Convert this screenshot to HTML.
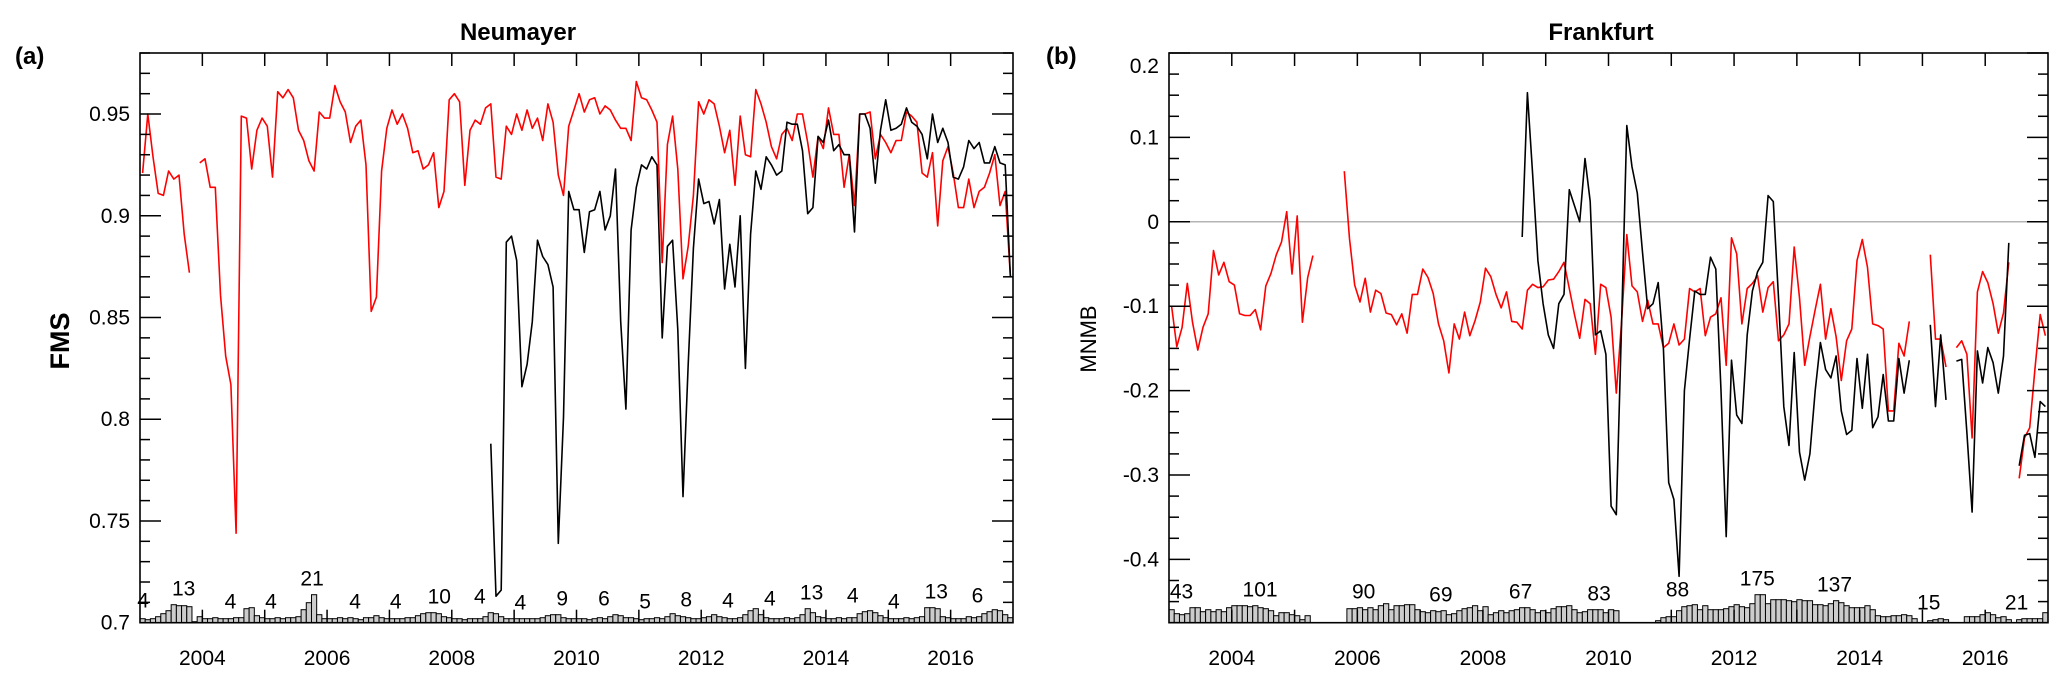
<!DOCTYPE html>
<html><head><meta charset="utf-8"><style>
html,body{margin:0;padding:0;background:#fff;}
svg{display:block;font-family:"Liberation Sans",Arial,sans-serif;}
</style></head><body>
<svg id="chart" width="2067" height="682" viewBox="0 0 2067 682" xmlns="http://www.w3.org/2000/svg"></svg>
<script>
const N = 168;
const leftRed = [0.921,0.950,0.929,0.911,0.910,0.922,0.918,0.920,0.891,0.872,null,
0.926,0.928,0.914,0.914,0.861,0.831,0.817,0.744,
0.949,0.948,0.923,0.942,0.948,0.944,0.919,0.961,0.958,0.962,0.958,
0.942,0.937,0.927,0.922,0.951,0.948,0.948,0.964,0.956,0.951,
0.936,0.944,0.947,0.925,0.853,0.860,0.922,0.943,0.952,0.945,
0.950,0.943,0.931,0.932,0.923,0.925,0.931,0.904,0.912,0.957,
0.960,0.956,0.915,0.942,0.947,0.945,0.953,0.955,0.919,0.918,
0.944,0.940,0.950,0.942,0.952,0.943,0.948,0.937,0.955,0.946,
0.920,0.910,0.944,0.952,0.960,0.951,0.957,0.958,0.950,0.954,
0.952,0.947,0.943,0.943,0.937,0.966,0.958,0.957,0.952,0.946,
0.877,0.935,0.949,0.923,0.869,0.885,0.910,0.956,
0.950,0.957,0.955,0.944,0.931,0.942,0.915,0.949,0.930,0.929,
0.962,0.955,0.946,0.934,0.928,0.940,0.943,0.937,0.950,0.950,
0.936,0.919,0.939,0.933,0.953,0.940,0.940,0.914,0.930,0.905,
0.950,0.950,0.951,0.928,0.940,0.936,0.931,0.937,0.937,0.951,
0.949,0.946,0.921,0.919,0.931,0.895,0.927,0.934,0.921,0.904,
0.904,0.918,0.904,0.912,0.914,0.921,0.930,0.905,0.912,0.870];
const leftBlackStart = 67;
const leftBlackVals = [0.788,0.713,0.716,0.887,0.890,0.878,0.816,0.827,0.848,0.888,
0.880,0.876,0.865,0.739,0.801,0.912,0.903,0.903,0.882,0.902,
0.903,0.912,0.893,0.900,0.923,0.848,0.805,0.893,0.914,0.925,
0.923,0.929,0.925,0.840,0.885,0.888,0.844,0.762,0.827,0.884,0.918,
0.906,0.907,0.896,0.908,0.864,0.886,0.865,0.900,0.825,0.891,
0.922,0.913,0.929,0.925,0.920,0.922,0.946,0.945,0.945,0.932,
0.901,0.904,0.939,0.936,0.947,0.932,0.935,0.930,0.930,0.892,
0.950,0.950,0.943,0.916,0.942,0.957,0.942,0.943,0.945,0.953,
0.946,0.944,0.940,0.928,0.950,0.936,0.943,0.936,0.919,0.918,
0.924,0.937,0.933,0.936,0.926,0.926,0.934,0.926,0.925,0.870];
const rightRed = [-0.100,-0.148,-0.125,-0.073,-0.119,-0.152,-0.125,-0.109,-0.034,-0.063,
-0.048,-0.071,-0.075,-0.109,-0.111,-0.111,-0.104,-0.128,-0.076,-0.061,
-0.039,-0.024,0.012,-0.062,0.007,-0.119,-0.066,-0.040,
null,null,null,null,null,
0.060,-0.020,-0.075,-0.095,-0.067,-0.107,-0.081,-0.085,-0.108,-0.110,-0.122,
-0.109,-0.132,-0.086,-0.086,-0.056,-0.066,-0.085,-0.121,-0.141,-0.179,
-0.121,-0.139,-0.107,-0.135,-0.117,-0.095,-0.055,-0.065,-0.086,-0.102,
-0.083,-0.118,-0.119,-0.127,-0.081,-0.074,-0.078,-0.077,-0.069,-0.068,
-0.059,-0.048,-0.079,-0.110,-0.138,-0.092,-0.097,-0.157,-0.074,-0.078,
-0.113,-0.203,-0.118,-0.015,-0.076,-0.083,-0.118,-0.093,-0.121,-0.121,
-0.149,-0.144,-0.121,-0.146,-0.139,-0.079,-0.083,-0.079,-0.135,-0.113,
-0.109,-0.090,-0.170,-0.019,-0.038,-0.121,-0.079,-0.073,-0.064,-0.107,
-0.078,-0.071,-0.141,-0.134,-0.121,-0.030,-0.090,-0.170,-0.136,-0.104,
-0.074,-0.139,-0.103,-0.136,-0.188,-0.141,-0.127,-0.046,-0.021,-0.054,
-0.121,-0.123,-0.127,-0.224,-0.224,-0.144,-0.159,-0.118,
null,null,null,
-0.039,-0.139,-0.139,-0.172,null,
-0.149,-0.141,-0.157,-0.256,-0.083,-0.059,-0.072,-0.097,-0.132,-0.108,-0.048,null,
-0.304,-0.256,-0.244,-0.175,-0.110,-0.135];
const rightBlackStart = 67;
const rightBlackVals = [-0.018,0.153,0.057,-0.046,-0.097,-0.134,-0.150,-0.097,-0.086,0.038,
0.019,0.000,0.075,0.024,-0.134,-0.129,-0.157,-0.337,-0.347,-0.120,
0.114,0.065,0.034,-0.036,-0.103,-0.097,-0.072,-0.150,-0.309,-0.329,
-0.420,-0.200,-0.139,-0.082,-0.086,-0.086,-0.042,-0.056,-0.200,-0.373,
-0.164,-0.229,-0.239,-0.134,-0.082,-0.059,-0.048,0.031,0.024,-0.090,
-0.219,-0.265,-0.155,-0.273,-0.306,-0.275,-0.200,-0.143,-0.175,-0.185,
-0.159,-0.224,-0.252,-0.247,-0.162,-0.221,-0.157,-0.244,-0.231,-0.181,
-0.236,-0.236,-0.162,-0.203,-0.164,
null,null,null,
-0.122,-0.219,-0.134,-0.211,null,
-0.165,-0.163,-0.250,-0.344,-0.153,-0.191,-0.149,-0.167,-0.203,-0.159,-0.025,null,
-0.289,-0.253,-0.251,-0.279,-0.213,-0.219];
const leftBars = [4,3,4,6,9,12,18,17,17,16,1,6,
4,4,5,4,4,4,5,5,14,15,7,5,
4,4,5,4,5,5,6,13,20,28,8,4,
4,4,5,4,5,4,3,5,5,7,5,4,
4,4,4,5,5,7,9,10,10,9,6,5,
4,4,3,4,4,4,6,10,9,6,4,4,
4,4,4,4,4,5,7,8,8,5,4,4,
4,4,3,4,5,4,6,8,7,5,5,4,
3,4,4,5,4,6,9,7,6,5,4,4,
5,6,8,6,5,4,4,5,8,12,14,8,
5,4,4,4,5,4,5,8,14,10,6,5,
4,4,5,4,5,5,9,11,12,10,7,5,
4,4,4,5,4,5,6,15,15,14,6,5,
4,4,4,6,5,6,9,11,13,12,8,5];
const rightBars = [13,9,8,9,15,15,11,13,11,13,11,15,
17,17,17,16,17,15,14,12,7,10,10,8,
7,3,7,0,0,0,0,0,0,0,14,14,
15,13,15,13,17,19,13,17,17,18,18,13,
11,10,12,11,12,8,9,12,14,15,17,12,
16,8,10,12,10,12,13,15,15,13,10,12,
10,14,16,16,17,13,10,11,13,13,13,10,
13,12,0,0,0,0,0,0,0,2,5,6,
6,12,16,17,18,13,17,13,13,13,14,16,
18,16,15,19,28,28,19,23,23,23,22,21,
23,22,22,18,18,17,19,22,20,17,15,15,
15,17,13,7,6,6,7,7,8,7,4,0,
0,2,3,4,3,0,0,0,6,6,6,8,
10,8,5,6,3,0,3,4,4,4,4,10];
const leftLabelYears = [2003.05,2003.7,2004.45,2005.1,2005.76,2006.45,2007.1,2007.8,2008.45,2009.1,2009.77,2010.44,2011.1,2011.76,2012.43,2013.1,2013.77,2014.43,2015.09,2015.77,2016.43];
const leftLabelText = ["4","13","4","4","21","4","4","10","4","4","9","6","5","8","4","4","13","4","4","13","6"];
const rightLabelYears = [2003.2,2004.45,2006.1,2007.33,2008.6,2009.85,2011.1,2012.37,2013.6,2015.1,2016.5];
const rightLabelText = ["43","101","90","69","67","83","88","175","137","15","21"];
const leftYTicks = [0.7,0.75,0.8,0.85,0.9,0.95];
const leftYTickText = ["0.7","0.75","0.8","0.85","0.9","0.95"];
const rightYTicks = [-0.4,-0.3,-0.2,-0.1,0,0.1,0.2];
const rightYTickText = ["-0.4","-0.3","-0.2","-0.1","0","0.1","0.2"];
const xTickYears = [2004,2006,2008,2010,2012,2014,2016];

function pad(start, vals){ const a=[]; for(let i=0;i<start;i++)a.push(null); return a.concat(vals); }
const leftBlack = pad(leftBlackStart, leftBlackVals);
const rightBlack = pad(rightBlackStart, rightBlackVals);

const svg = document.getElementById('chart');
const NS = 'http://www.w3.org/2000/svg';
function mk(tag, attrs, parent){ const e=document.createElementNS(NS,tag); for(const k in attrs) e.setAttribute(k,attrs[k]); (parent||svg).appendChild(e); return e; }

function drawPanel(p){
  const g = mk('g',{});
  
  
  const X = yr => p.x0 + (yr-2003)/14*(p.x1-p.x0);
  const Y = v => p.y1 - (v-p.ymin)/(p.ymax-p.ymin)*(p.y1-p.y0);
  const mw = (p.x1-p.x0)/N/1;
  // zero line
  if (p.zero){
    const z = mk('line',{x1:p.x0,x2:p.x1,y1:Y(0),y2:Y(0),stroke:'#b4b4b4','stroke-width':1.5},g);
    
    
  }
  // bars
  const bg = mk('g',{},g);
  
  
  p.bars.forEach((v,i)=>{
    if(!v) return;
    const x = X(2003+i/12);
    const r = mk('rect',{x:x,y:p.y1-v*p.barScale,width:(p.x1-p.x0)/168,height:v*p.barScale,fill:'#cccccc',stroke:'#000','stroke-width':1},bg);
    
    
  });
  // count labels
  p.labYears.forEach((yr,k)=>{
    const c = Math.round((yr-2003)*12);
    let mx=0; for(let j=c-2;j<=c+2;j++){ if(j>=0&&j<N&&p.bars[j]>mx) mx=p.bars[j]; }
    const t = mk('text',{x:X(yr),y:p.y1-mx*p.barScale-9,'font-size':21,'text-anchor':'middle',fill:'#000'},g);
    t.textContent = p.labText[k];
    
    
  });
  // series
  function line(arr,color,name){
    let d='', pen=false;
    arr.forEach((v,i)=>{
      if(v===null||v===undefined){pen=false;return;}
      const x=X(2003+(i+0.5)/12), y=Y(v);
      d += (pen?'L':'M')+x.toFixed(1)+' '+y.toFixed(1)+' ';
      pen=true;
    });
    const pth = mk('path',{d:d,fill:'none',stroke:color,'stroke-width':1.6,'stroke-linejoin':'round'},g);
    
    
  }
  line(p.red,'#ff0000','red-series');
  line(p.black,'#000000','black-series');
  // frame
  const fr = mk('rect',{x:p.x0,y:p.y0,width:p.x1-p.x0,height:p.y1-p.y0,fill:'none',stroke:'#000','stroke-width':1.6},g);
  
  
  // y ticks
  const steps = Math.round((p.ymax-p.ymin)/p.minor);
  for(let k=0;k<=steps;k++){
    const v = p.ymin + k*p.minor;
    const isMaj = p.yt.some(t=>Math.abs(t-v)<1e-6);
    const L = isMaj?21:10, y=Y(v);
    mk('line',{x1:p.x0,x2:p.x0+L,y1:y,y2:y,stroke:'#000','stroke-width':1.5},g);
    mk('line',{x1:p.x1,x2:p.x1-L,y1:y,y2:y,stroke:'#000','stroke-width':1.5},g);
  }
  p.yt.forEach((v,k)=>{
    let y=Y(v); if(y<66) y=66;
    const t = mk('text',{x:p.x0-10,y:y+7,'font-size':21,'text-anchor':'end',fill:'#000'},g);
    t.textContent = p.ytText[k];
    
    
  });
  // x ticks
  for(let yr=2004; yr<=2016; yr++){
    const x=X(yr);
    mk('line',{x1:x,x2:x,y1:p.y0,y2:p.y0+13,stroke:'#000','stroke-width':1.5},g);
    mk('line',{x1:x,x2:x,y1:p.y1,y2:p.y1-13,stroke:'#000','stroke-width':1.5},g);
  }
  xTickYears.forEach(yr=>{
    const t = mk('text',{x:X(yr),y:665,'font-size':21,'text-anchor':'middle',fill:'#000'},g);
    t.textContent = String(yr);
    
    
  });
  // title
  const tt = mk('text',{x:p.titleX,y:40,'font-size':24,'font-weight':'bold','text-anchor':'middle',fill:'#000'},g);
  tt.textContent = p.title;
  
  
  const pl = mk('text',{x:p.tagX,y:64,'font-size':24,'font-weight':'bold',fill:'#000'},g);
  pl.textContent = p.tag;
  
  
  const yl = mk('text',{x:0,y:0,'font-size':p.ylabSize,'font-weight':p.ylabBold?'bold':'normal','text-anchor':'middle',fill:'#000',transform:'translate('+(p.ylabX)+','+p.ylabY+') rotate(-90)'},g);
  yl.textContent = p.ylab;
  
  
}

drawPanel({name:'panel-neumayer',x0:140,x1:1013,y0:53,y1:622.7,ymin:0.7,ymax:0.98,minor:0.01,yt:leftYTicks,ytText:leftYTickText,
  red:leftRed,black:leftBlack,bars:leftBars,barScale:1.0,labYears:leftLabelYears,labText:leftLabelText,
  title:'Neumayer',titleX:518,tag:'(a)',tagX:15,ylab:'FMS',ylabBold:true,ylabSize:27,ylabX:69,ylabY:341,zero:false});
drawPanel({name:'panel-frankfurt',x0:1169,x1:2048,y0:53,y1:622.7,ymin:-0.475,ymax:0.2,minor:0.025,yt:rightYTicks,ytText:rightYTickText,
  red:rightRed,black:rightBlack,bars:rightBars,barScale:1.0,labYears:rightLabelYears,labText:rightLabelText,
  title:'Frankfurt',titleX:1601,tag:'(b)',tagX:1046,ylab:'MNMB',ylabBold:false,ylabSize:22,ylabX:1096,ylabY:339,zero:true});
</script>
</body></html>
